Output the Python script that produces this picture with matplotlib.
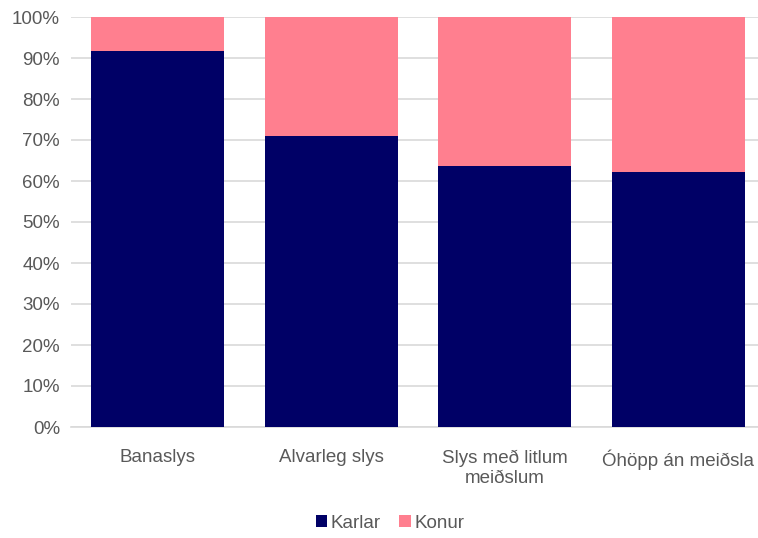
import matplotlib.pyplot as plt
import numpy as np

categories = ['Banaslys', 'Alvarleg slys', 'Slys með litlum\nmeiðslum', 'Óhöpp án meiðsla']
karlar = [91.7, 71.0, 63.7, 62.2]
konur = [100 - v for v in karlar]

plt.rcParams['font.family'] = ['Liberation Sans Narrow', 'Liberation Sans', 'DejaVu Sans']

fig = plt.figure(figsize=(7.58, 5.38), dpi=100)
ax = fig.add_axes([71 / 758, 111 / 538, 694 / 758, 410 / 538])

x = np.arange(len(categories))
ax.bar(x, karlar, width=0.765, color='#000066', label='Karlar', zorder=3)
ax.bar(x, konur, bottom=karlar, width=0.765, color='#FF7F8F', label='Konur', zorder=3)

ax.set_xlim(-0.5, len(categories) - 0.5)
ax.set_ylim(0, 100)
ax.set_yticks(np.arange(0, 101, 10))
ax.set_yticklabels([f'{v}%' for v in range(0, 101, 10)])
ax.set_xticks(x)
ax.set_xticklabels(categories, linespacing=1.3)
ax.tick_params(axis='both', length=0, labelsize=13.5, colors='#595959')
ax.tick_params(axis='x', pad=16)
ax.tick_params(axis='y', pad=8)
ax.grid(axis='y', color='#D9D9D9', linewidth=1.2, zorder=0)
for s in ['top', 'right', 'left']:
    ax.spines[s].set_visible(False)
ax.spines['bottom'].set_color('#D9D9D9')
ax.spines['bottom'].set_linewidth(1.2)

fig.legend(loc='center', bbox_to_anchor=(390 / 758, 1 - 523 / 538), ncol=2, frameon=False,
           fontsize=13.5, handlelength=0.6, handleheight=0.6, handletextpad=0.2,
           columnspacing=1.0, labelcolor='#595959')

fig.savefig('out.png', dpi=100)
